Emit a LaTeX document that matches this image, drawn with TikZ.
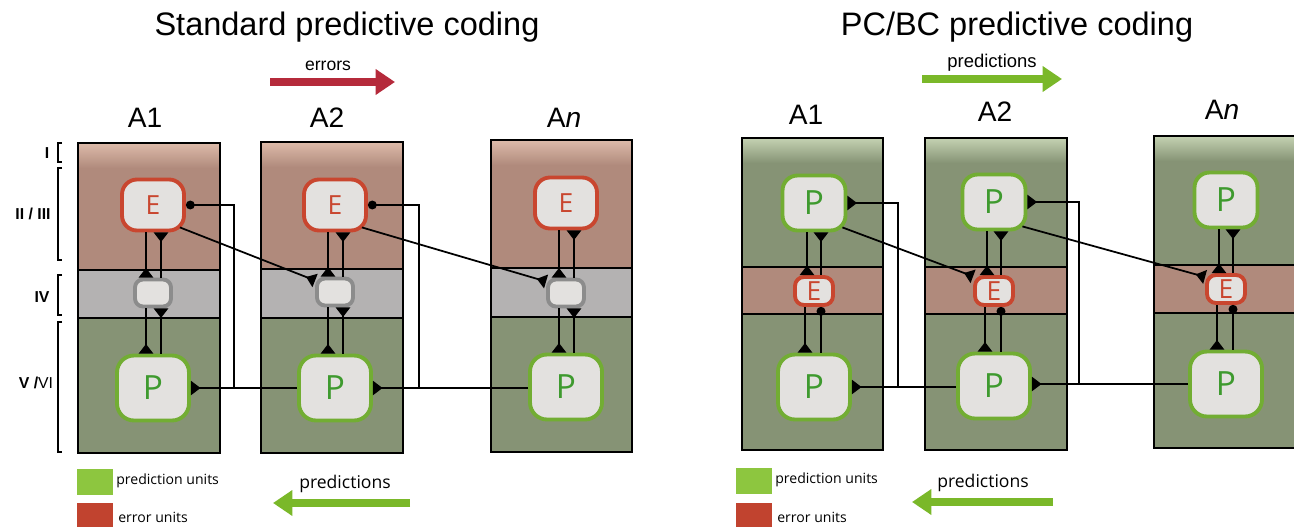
\documentclass[tikz,border=0pt]{standalone}
\usepackage{fontspec}
\setmainfont{Liberation Sans}
\newfontfamily\unitfont{Open Sans}
\usetikzlibrary{arrows.meta}
\definecolor{errred}{HTML}{C9462F}
\definecolor{predgreen}{HTML}{72AD33}
\definecolor{predtext}{HTML}{3E9A2E}
\definecolor{relaygrey}{HTML}{8C8C8C}
\definecolor{unitfill}{HTML}{E3E1DF}
\definecolor{pinkband}{HTML}{B08A7C}
\definecolor{pinktop}{HTML}{DDBBAA}
\definecolor{greyband}{HTML}{B4B2B2}
\definecolor{greenband}{HTML}{869375}
\definecolor{greentop}{HTML}{C4D2B2}
\definecolor{arrowred}{HTML}{B52A3B}
\definecolor{arrowgreen}{HTML}{7AB829}
\definecolor{keygreen}{HTML}{8DC63F}
\definecolor{keyred}{HTML}{C1432F}
\tikzset{syn/.tip={Triangle[reversed,length=5.5pt,width=8pt]}, blob/.tip={Circle[length=5pt]}}
\tikzstyle{unit} = [line width=2.2pt, fill=unitfill, inner sep=0pt, font={\unitfont\fontsize{15}{15}\selectfont}]
\tikzstyle{errunit} = [unit, draw=errred, text=errred, rounded corners=0.3cm, minimum width=1.24cm, minimum height=1.02cm]
\tikzstyle{relayunit} = [unit, draw=relaygrey, rounded corners=0.16cm, minimum width=0.72cm, minimum height=0.54cm]
\tikzstyle{predunit} = [unit, draw=predgreen, text=predtext, rounded corners=0.34cm, minimum width=1.44cm, minimum height=1.3cm, font={\unitfont\fontsize{19}{19}\selectfont}]
\tikzstyle{smallerr} = [errunit, rounded corners=0.18cm, minimum width=0.76cm, minimum height=0.56cm]
\tikzstyle{toppred} = [predunit, rounded corners=0.3cm, minimum width=1.26cm, minimum height=1.1cm]
\tikzstyle{link} = [line width=1.6pt]
\tikzstyle{wire} = [line width=1pt]
\tikzstyle{bigarrow} = [line width=5pt, -{Triangle[length=11pt,width=14pt]}]
\tikzstyle{title} = [font={\fontsize{18.5}{18.5}\selectfont}]
\tikzstyle{area} = [font={\fontsize{16}{16}\selectfont}]
\tikzstyle{layer} = [font={\fontsize{9}{9}\selectfont\bfseries}]
\tikzstyle{keytext} = [anchor=west, inner sep=0pt, font={\unitfont\fontsize{8}{8}\selectfont}]

\begin{document}
\begin{tikzpicture}[x=0.02cm, y=-0.02cm]
  \useasboundingbox (0,0) rectangle (1294,527);

  % standard predictive coding: columns
  \foreach \xa/\xb/\yt/\yu/\yl/\yb in {78/220/143/270/318/453, 261/403/142/269/318/453, 491/632/140/268/317/452}{
    \fill[pinkband] (\xa,\yt) rectangle (\xb,\yu);
    \shade[top color=pinktop, bottom color=pinkband] (\xa,\yt) rectangle (\xb,\yt+25);
    \fill[greyband] (\xa,\yu) rectangle (\xb,\yl);
    \fill[greenband] (\xa,\yl) rectangle (\xb,\yb);
    \draw[line width=0.9pt] (\xa,\yu) -- (\xb,\yu) (\xa,\yl) -- (\xb,\yl);
    \draw[line width=1pt] (\xa,\yt) rectangle (\xb,\yb);
  }
  % PC/BC predictive coding: columns
  \foreach \xa/\xb/\yt/\yu/\yl/\yb in {742/883/138/267/314/450, 925/1067/138/267/314/450, 1154/1310/136/265/313/448}{
    \fill[greenband] (\xa,\yt) rectangle (\xb,\yu);
    \shade[top color=greentop, bottom color=greenband] (\xa,\yt) rectangle (\xb,\yt+25);
    \fill[pinkband] (\xa,\yu) rectangle (\xb,\yl);
    \fill[greenband] (\xa,\yl) rectangle (\xb,\yb);
    \draw[line width=0.9pt] (\xa,\yu) -- (\xb,\yu) (\xa,\yl) -- (\xb,\yl);
    \draw[line width=1pt] (\xa,\yt) rectangle (\xb,\yb);
  }

  % titles and areas
  \node[title](ttlstd) at (347,27){Standard predictive coding};
  \node[title](ttlpcbc) at (1017,27){PC/BC predictive coding};
  \node[area](a1) at (145,118){A1};
  \node[area](a2) at (327,118){A2};
  \node[area](an) at (564,118){A\textit{n}};
  \node[area](b1) at (806,115){A1};
  \node[area](b2) at (995,112){A2};
  \node[area](bn) at (1222,110){A\textit{n}};

  % layers
  \node[layer](l1) at (47,153){I};
  \node[layer](l23) at (33,214){II / III};
  \node[layer](l4) at (42,297){IV};
  \node[layer](l56) at (36,383){V /\textmd{VI}};
  \draw[line width=0.6pt] (62,143) -- (58,143) -- (58,162) -- (62,162);
  \draw[line width=0.6pt] (62,168) -- (58,168) -- (58,260) -- (62,260);
  \draw[line width=0.6pt] (62,275) -- (58,275) -- (58,315) -- (62,315);
  \draw[line width=0.6pt] (62,322) -- (58,322) -- (58,452) -- (62,452);

  % standard units
  \node[errunit](e1) at (153,205){E};
  \node[relayunit](g1) at (153,293){};
  \node[predunit](p1) at (153,388){P};
  \node[errunit](e2) at (335,205){E};
  \node[relayunit](g2) at (335,292){};
  \node[predunit](p2) at (335,388){P};
  \node[errunit](e3) at (566,203){E};
  \node[relayunit](g3) at (566,293){};
  \node[predunit](p3) at (566,387){P};

  \draw[link,-syn] ([xshift=-0.14cm]e1.south) -- ([xshift=-0.14cm]g1.north);
  \draw[link,-syn] ([xshift=0.16cm]g1.north) -- ([xshift=0.16cm]e1.south);
  \draw[link,-syn] ([xshift=-0.14cm]g1.south) -- ([xshift=-0.14cm]p1.north);
  \draw[link,-syn] ([xshift=0.16cm]p1.north) -- ([xshift=0.16cm]g1.south);
  \draw[link,-syn] ([xshift=-0.14cm]e2.south) -- ([xshift=-0.14cm]g2.north);
  \draw[link,-syn] ([xshift=0.16cm]g2.north) -- ([xshift=0.16cm]e2.south);
  \draw[link,-syn] ([xshift=-0.14cm]g2.south) -- ([xshift=-0.14cm]p2.north);
  \draw[link,-syn] ([xshift=0.16cm]p2.north) -- ([xshift=0.16cm]g2.south);
  \draw[link,-syn] ([xshift=-0.14cm]e3.south) -- ([xshift=-0.14cm]g3.north);
  \draw[link,-syn] ([xshift=0.16cm]g3.north) -- ([xshift=0.16cm]e3.south);
  \draw[link,-syn] ([xshift=-0.14cm]g3.south) -- ([xshift=-0.14cm]p3.north);
  \draw[link,-syn] ([xshift=0.16cm]p3.north) -- ([xshift=0.16cm]g3.south);

  \coordinate (j1) at (234,388);
  \coordinate (j2) at (419,388);
  \draw[wire,-syn] (p2.west) -- (p1.east);
  \draw[wire,-syn] (p3.west |- p2.east) -- (p2.east);
  \draw[wire,blob-] (e1.east) -| (j1);
  \draw[wire,blob-] (e2.east) -| (j2);
  \draw[wire,-syn] ([shift={(-6,-5)}]e1.south east) -- (g2.150);
  \draw[wire,-syn] ([shift={(-6,-5)}]e2.south east) -- (g3.150);

  % PC/BC units
  \node[toppred](pt1) at (814,203){P};
  \node[smallerr](er1) at (814,291){E};
  \node[predunit](pb1) at (814,387){P};
  \node[toppred](pt2) at (994,202){P};
  \node[smallerr](er2) at (994,291){E};
  \node[predunit](pb2) at (994,386){P};
  \node[toppred](pt3) at (1226,200){P};
  \node[smallerr](er3) at (1226,289){E};
  \node[predunit](pb3) at (1226,384){P};

  \draw[link,-syn] ([xshift=-0.14cm]pt1.south) -- ([xshift=-0.14cm]er1.north);
  \draw[link,-syn] ([xshift=0.14cm]er1.north) -- ([xshift=0.14cm]pt1.south);
  \draw[link,-syn] ([xshift=-0.18cm]er1.south) -- ([xshift=-0.18cm]pb1.north);
  \draw[link,-blob] ([xshift=0.14cm]pb1.north) -- ([xshift=0.14cm]er1.south);
  \draw[link,-syn] ([xshift=-0.14cm]pt2.south) -- ([xshift=-0.14cm]er2.north);
  \draw[link,-syn] ([xshift=0.14cm]er2.north) -- ([xshift=0.14cm]pt2.south);
  \draw[link,-syn] ([xshift=-0.18cm]er2.south) -- ([xshift=-0.18cm]pb2.north);
  \draw[link,-blob] ([xshift=0.14cm]pb2.north) -- ([xshift=0.14cm]er2.south);
  \draw[link,-syn] ([xshift=-0.14cm]pt3.south) -- ([xshift=-0.14cm]er3.north);
  \draw[link,-syn] ([xshift=0.14cm]er3.north) -- ([xshift=0.14cm]pt3.south);
  \draw[link,-syn] ([xshift=-0.18cm]er3.south) -- ([xshift=-0.18cm]pb3.north);
  \draw[link,-blob] ([xshift=0.14cm]pb3.north) -- ([xshift=0.14cm]er3.south);

  \coordinate (j3) at (898,387);
  \coordinate (j4) at (1079,384);
  \draw[wire,-syn] (pb2.west |- pb1.east) -- (pb1.east);
  \draw[wire,-syn] (pb3.west) -- (pb3.west -| pb2.east);
  \draw[wire,syn-] (pt1.east) -| (j3);
  \draw[wire,syn-] (pt2.east) -| (j4);
  \draw[wire,-syn] ([shift={(-5,-5)}]pt1.south east) -- (er2.145);
  \draw[wire,-syn] ([shift={(-5,-5)}]pt2.south east) -- (er3.150);

  % flow arrows
  \coordinate (err0) at (270,82);
  \coordinate (err1) at (395,82);
  \draw[bigarrow, arrowred] (err0) -- (err1);
  \node[font={\fontsize{10}{10}\selectfont}](errlbl) at (328,66){errors};
  \coordinate (prd0) at (922,79);
  \coordinate (prd1) at (1062,79);
  \draw[bigarrow, arrowgreen] (prd0) -- (prd1);
  \node[font={\fontsize{10.5}{10.5}\selectfont}](prdlbl) at (992,63){predictions};
  \coordinate (fb0) at (410,503);
  \coordinate (fb1) at (273,503);
  \draw[bigarrow, arrowgreen] (fb0) -- (fb1);
  \node[font={\unitfont\fontsize{10}{10}\selectfont}](fblbl) at (345,484){predictions};
  \coordinate (gb0) at (1053,502);
  \coordinate (gb1) at (912,502);
  \draw[bigarrow, arrowgreen] (gb0) -- (gb1);
  \node[font={\unitfont\fontsize{10}{10}\selectfont}](gblbl) at (983,483){predictions};

  % legends
  \fill[keygreen] (77,469) rectangle (113,495);
  \fill[keyred] (77,503) rectangle (113,527);
  \node[keytext](kp1) at (116,481){prediction units};
  \node[keytext](ke1) at (118,517){error units};
  \fill[keygreen] (736,468) rectangle (772,494);
  \fill[keyred] (736,503) rectangle (772,527);
  \node[keytext](kp2) at (775,480){prediction units};
  \node[keytext](ke2) at (777,517){error units};
\end{tikzpicture}
\end{document}
